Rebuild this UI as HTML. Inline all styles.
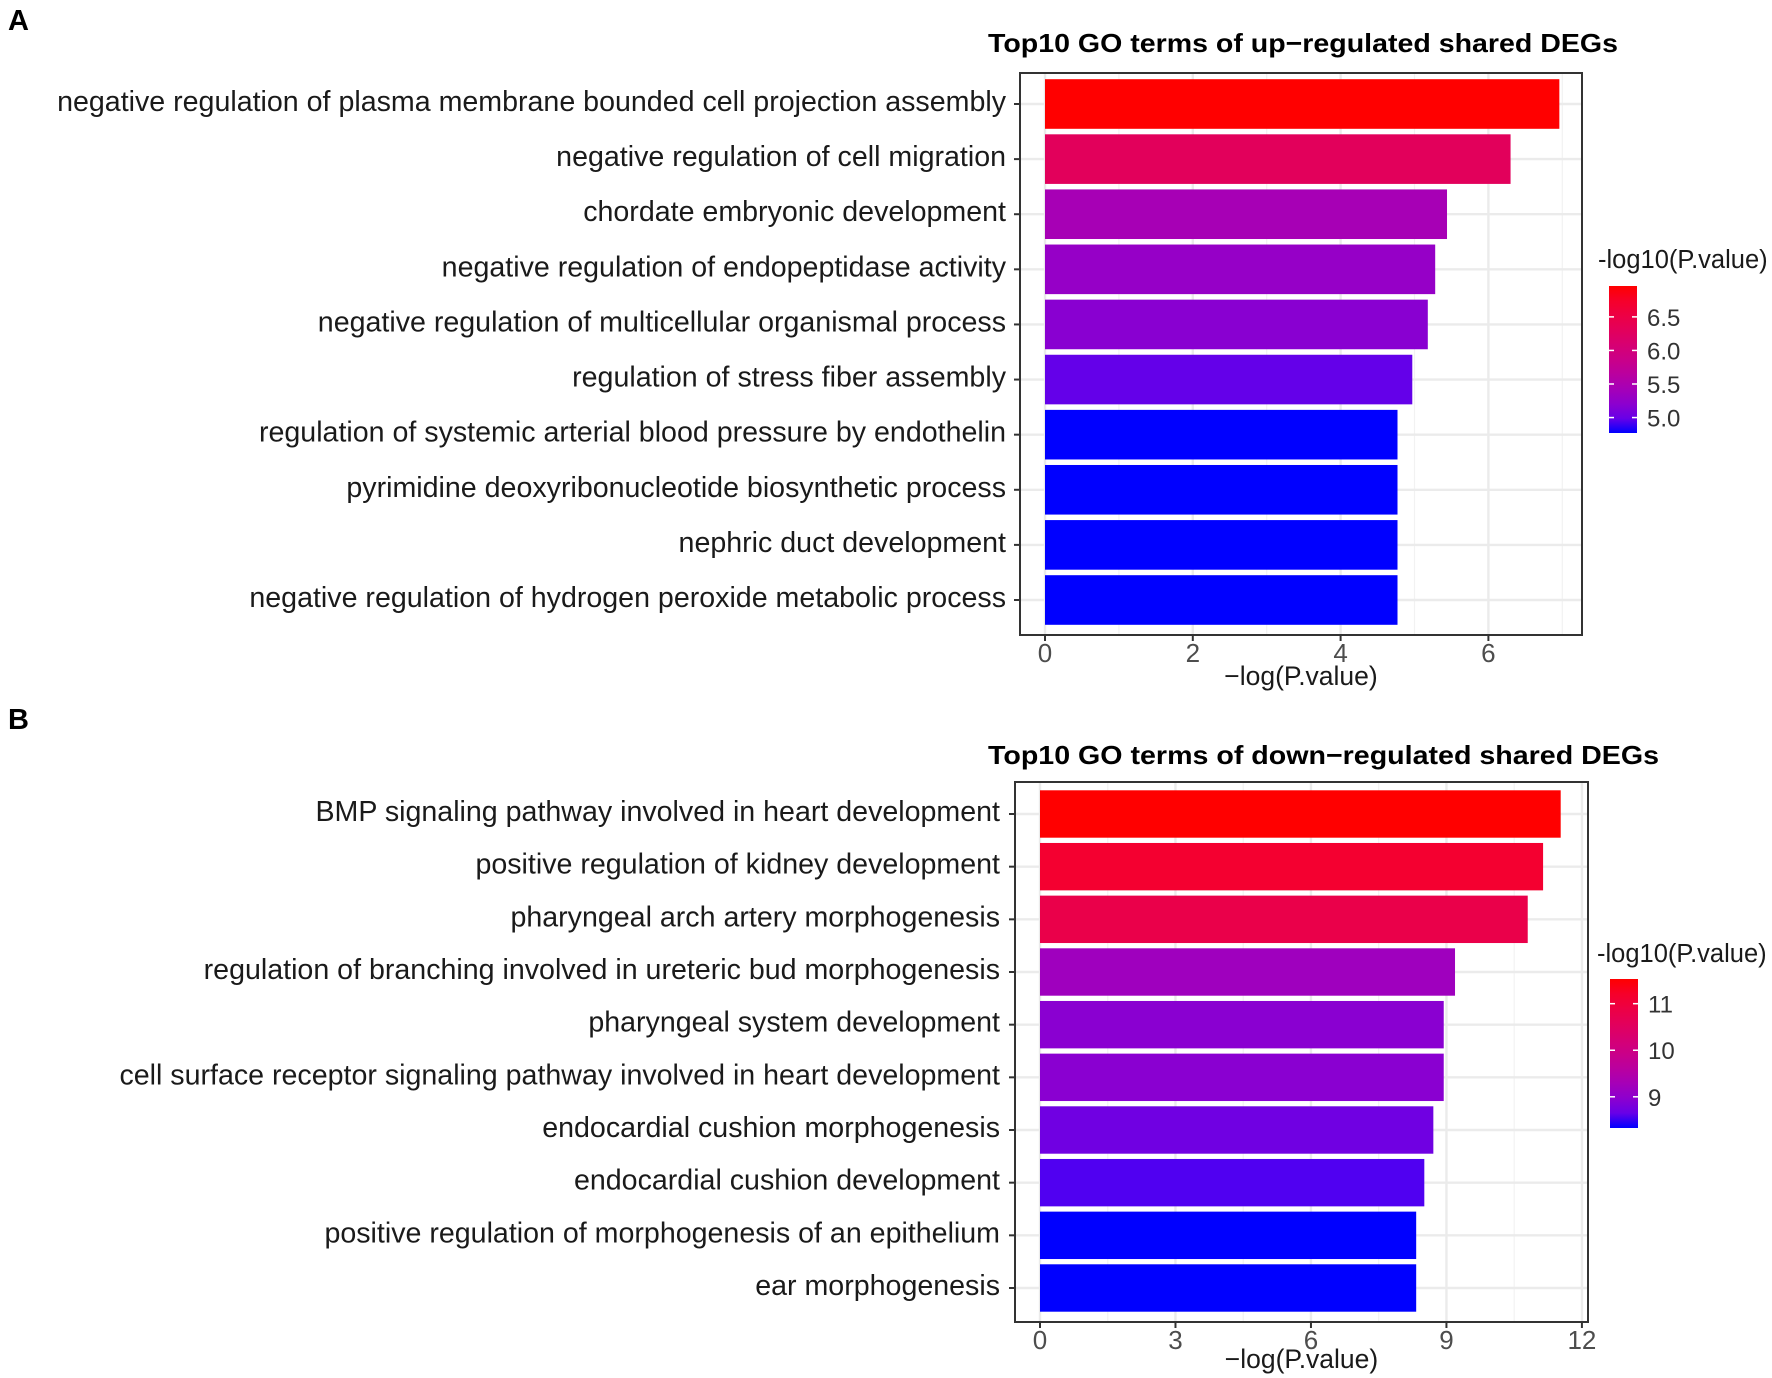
<!DOCTYPE html>
<html><head><meta charset="utf-8"><style>
html,body{margin:0;padding:0;background:#fff;}
svg{display:block;font-family:"Liberation Sans",Arial,sans-serif;}
</style></head><body>
<svg id="fig" width="1772" height="1378" viewBox="0 0 1772 1378" xmlns="http://www.w3.org/2000/svg">
<rect width="1772" height="1378" fill="#fff"/>
<text x="8" y="30" font-size="29" font-weight="bold">A</text>
<text x="8" y="729" font-size="29" font-weight="bold">B</text>
</svg>
<script>
const termsA = ["negative regulation of plasma membrane bounded cell projection assembly","negative regulation of cell migration","chordate embryonic development","negative regulation of endopeptidase activity","negative regulation of multicellular organismal process","regulation of stress fiber assembly","regulation of systemic arterial blood pressure by endothelin","pyrimidine deoxyribonucleotide biosynthetic process","nephric duct development","negative regulation of hydrogen peroxide metabolic process"];
const valuesA = [6.96,6.30,5.44,5.28,5.18,4.97,4.77,4.77,4.77,4.77];
const ticksA = [0,2,4,6];
const legendTicksA = [5.0,5.5,6.0,6.5];
const legendLabelsA = ["5.0","5.5","6.0","6.5"];

const termsB = ["BMP signaling pathway involved in heart development","positive regulation of kidney development","pharyngeal arch artery morphogenesis","regulation of branching involved in ureteric bud morphogenesis","pharyngeal system development","cell surface receptor signaling pathway involved in heart development","endocardial cushion morphogenesis","endocardial cushion development","positive regulation of morphogenesis of an epithelium","ear morphogenesis"];
const valuesB = [11.53,11.14,10.80,9.19,8.94,8.94,8.71,8.51,8.33,8.33];
const ticksB = [0,3,6,9,12];
const legendTicksB = [9,10,11];
const legendLabelsB = ["9","10","11"];

const NS="http://www.w3.org/2000/svg";
const svg=document.getElementById('fig');
function mk(tag,attrs,parent){const e=document.createElementNS(NS,tag);for(const k in attrs)e.setAttribute(k,attrs[k]);(parent||svg).appendChild(e);return e;}

function toLin(c){c/=255;return c<=0.04045?c/12.92:Math.pow((c+0.055)/1.055,2.4);}
function fromLin(c){c=c<=0.0031308?12.92*c:1.055*Math.pow(c,1/2.4)-0.055;return Math.round(Math.max(0,Math.min(1,c))*255);}
function rgb2lab(r,g,b){r=toLin(r);g=toLin(g);b=toLin(b);
 let x=(r*0.4124+g*0.3576+b*0.1805)/0.95047,y=(r*0.2126+g*0.7152+b*0.0722),z=(r*0.0193+g*0.1192+b*0.9505)/1.08883;
 const f=t=>t>0.008856?Math.cbrt(t):7.787*t+16/116;x=f(x);y=f(y);z=f(z);return[116*y-16,500*(x-y),200*(y-z)];}
function lab2rgb(L,a,bb){let y=(L+16)/116,x=a/500+y,z=y-bb/200;
 const fi=t=>t*t*t>0.008856?t*t*t:(t-16/116)/7.787;x=fi(x)*0.95047;y=fi(y);z=fi(z)*1.08883;
 const r=x*3.2406+y*-1.5372+z*-0.4986,g=x*-0.9689+y*1.8758+z*0.0415,b=x*0.0557+y*-0.2040+z*1.0570;
 return `rgb(${fromLin(r)},${fromLin(g)},${fromLin(b)})`;}
const LB=rgb2lab(0,0,255),LR=rgb2lab(255,0,0);
function col(t){t=Math.max(0,Math.min(1,t));return lab2rgb(LB[0]+(LR[0]-LB[0])*t,LB[1]+(LR[1]-LB[1])*t,LB[2]+(LR[2]-LB[2])*t);}

function panel(o){
 const g=mk('g',{});
 
 
 const xs=v=>o.x0+v*o.unit;
 const n=o.terms.length;
 const pitch=(o.lastC-o.firstC)/(n-1);
 const ys=i=>o.firstC+i*pitch;
 const mn=Math.min(...o.values),mx=Math.max(...o.values);
 const minor=[];for(let i=0;i<o.ticks.length;i++){minor.push(o.ticks[i]+(o.ticks[1]-o.ticks[0])/2);}
 minor.forEach(v=>{const X=xs(v);if(X<o.R)mk('line',{x1:X,x2:X,y1:o.T,y2:o.B,stroke:'#f2f2f2','stroke-width':1.2},g);});
 o.ticks.forEach(v=>{const X=xs(v);const l=mk('line',{x1:X,x2:X,y1:o.T,y2:o.B,stroke:'#ebebeb','stroke-width':2.4},g);});
 o.terms.forEach((t,i)=>{mk('line',{x1:o.L,x2:o.R,y1:ys(i),y2:ys(i),stroke:'#ebebeb','stroke-width':2.4},g);});
 o.values.forEach((v,i)=>{const h=pitch*0.9;
  const r=mk('rect',{x:xs(0),y:ys(i)-h/2,width:xs(v)-xs(0),height:h,fill:col((v-mn)/(mx-mn))},g);
  
  
  const tx=mk('text',{x:o.labelR,y:ys(i)+7,'font-size':28.6,'text-anchor':'end',fill:'#1a1a1a'},g);tx.textContent=o.terms[i];
  
  
  mk('line',{x1:o.L-6,x2:o.L,y1:ys(i),y2:ys(i),stroke:'#333','stroke-width':2},g);
 });
 mk('rect',{x:o.L,y:o.T,width:o.R-o.L,height:o.B-o.T,fill:'none',stroke:'#333','stroke-width':2},g);
 o.ticks.forEach((v,i)=>{mk('line',{x1:xs(v),x2:xs(v),y1:o.B,y2:o.B+6,stroke:'#333','stroke-width':2},g);
  const tx=mk('text',{x:xs(v),y:o.B+27,'font-size':26,'text-anchor':'middle',fill:'#4d4d4d'},g);tx.textContent=String(v);
  
  });
 const xt=mk('text',{x:(o.L+o.R)/2,y:o.B+o.titleOff,'font-size':26.5,'text-anchor':'middle',fill:'#1a1a1a'},g);xt.textContent='\u2212log(P.value)';
 
 
 const ti=mk('text',{x:o.titleX,y:o.titleY,'font-size':26,'font-weight':'bold',textLength:o.titleW,lengthAdjust:'spacingAndGlyphs'},g);ti.textContent=o.title;
 
 
 const lt=mk('text',{x:o.legX,y:o.legTitleY,'font-size':25.5,fill:'#1a1a1a'},g);lt.textContent='-log10(P.value)';
 
 
 const gid='grad'+o.name;
 const defs=mk('defs',{},g);const lg=mk('linearGradient',{id:gid,x1:0,y1:1,x2:0,y2:0},defs);
 for(let k=0;k<=10;k++)mk('stop',{offset:k/10,'stop-color':col(k/10)},lg);
 const cb=mk('rect',{x:o.cbX,y:o.cbT,width:28,height:o.cbB-o.cbT,fill:`url(#${gid})`},g);
 
 
 const ly=v=>o.cbB-(v-mn)/(mx-mn)*(o.cbB-o.cbT);
 o.legTicks.forEach((v,i)=>{const Y=ly(v);
  mk('line',{x1:o.cbX,x2:o.cbX+5,y1:Y,y2:Y,stroke:'#fff','stroke-width':1.5},g);
  mk('line',{x1:o.cbX+23,x2:o.cbX+28,y1:Y,y2:Y,stroke:'#fff','stroke-width':1.5},g);
  const tx=mk('text',{x:o.cbX+38,y:Y+9,'font-size':24,fill:'#333'},g);tx.textContent=o.legLabels[i];
  
  });
}
panel({name:'panel-a',terms:termsA,values:valuesA,ticks:ticksA,legTicks:legendTicksA,legLabels:legendLabelsA,
 L:1020,R:1582,T:73,B:635,x0:1045,unit:73.9,firstC:104,lastC:600,labelR:1006,titleOff:50,
 title:'Top10 GO terms of up\u2212regulated shared DEGs',titleX:988,titleY:52,titleW:630,
 legX:1598,legTitleY:268,cbX:1609,cbT:286,cbB:433});
panel({name:'panel-b',terms:termsB,values:valuesB,ticks:ticksB,legTicks:legendTicksB,legLabels:legendLabelsB,
 L:1015,R:1588,T:782,B:1322,x0:1040,unit:45.16,firstC:814,lastC:1288,labelR:1000,titleOff:46,
 title:'Top10 GO terms of down\u2212regulated shared DEGs',titleX:988,titleY:764,titleW:671,
 legX:1597,legTitleY:962,cbX:1610,cbT:979,cbB:1128});
</script>
</body></html>
